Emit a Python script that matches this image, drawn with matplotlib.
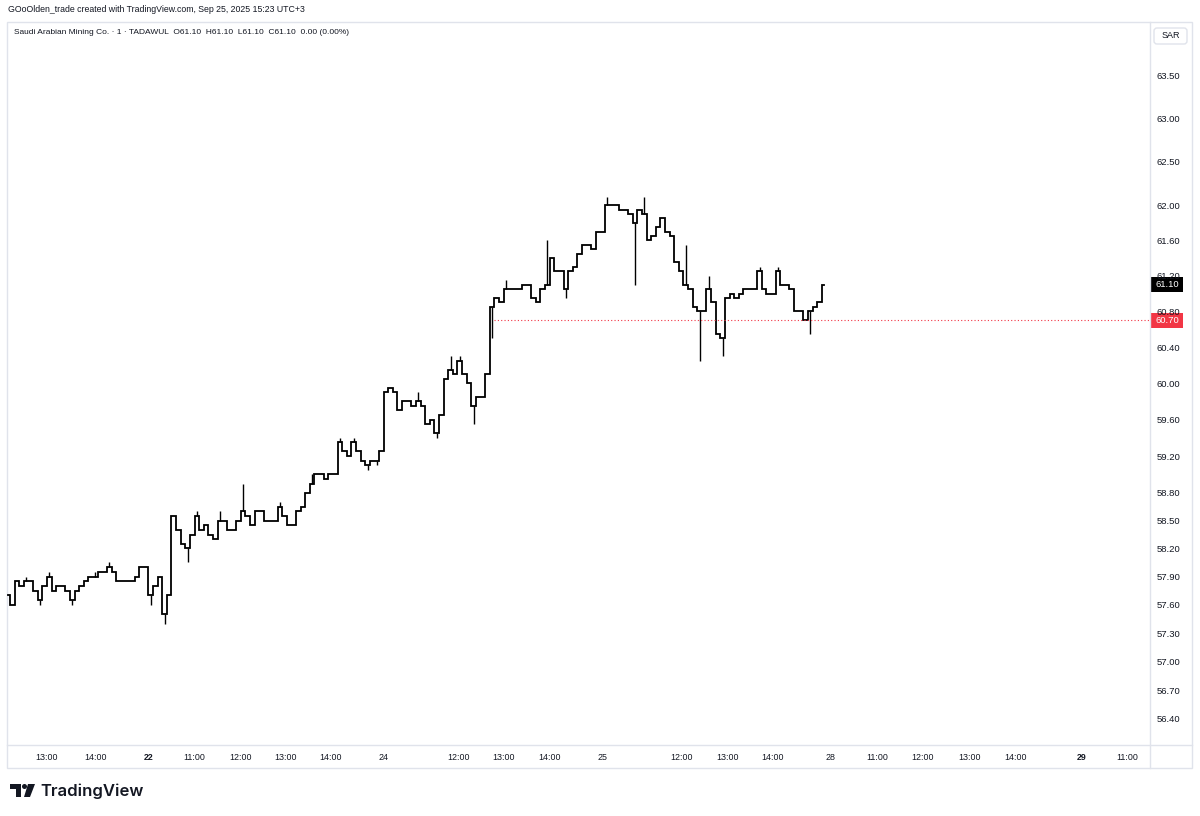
import numpy as np
import matplotlib.pyplot as plt
from matplotlib import font_manager as fm
from matplotlib.patches import FancyBboxPatch, Polygon, Rectangle, Circle

# 1-minute closes, one value every 6 bars
close = [
    57.70, 57.60, 57.85, 57.80, 57.85, 57.85, 57.75, 57.65, 57.80, 57.90,
    57.75, 57.80, 57.80, 57.75, 57.65, 57.75, 57.80, 57.85, 57.90, 57.90,
    57.95, 57.95, 58.00, 57.95, 57.85, 57.85, 57.85, 57.85, 57.90, 58.00,
    58.00, 57.70, 57.80, 57.90, 57.50, 57.70, 58.55, 58.40, 58.25, 58.20,
    58.35, 58.55, 58.40, 58.45, 58.35, 58.30, 58.50, 58.50, 58.40, 58.40,
    58.50, 58.60, 58.55, 58.45, 58.60, 58.60, 58.50, 58.50, 58.50, 58.65,
    58.55, 58.45, 58.45, 58.60, 58.65, 58.80, 58.90, 59.00, 59.00, 58.95,
    59.00, 59.00, 59.35, 59.25, 59.20, 59.35, 59.25, 59.15, 59.10, 59.15,
    59.15, 59.25, 59.90, 59.95, 59.90, 59.70, 59.80, 59.80, 59.75, 59.80,
    59.75, 59.55, 59.60, 59.45, 59.65, 60.05, 60.15, 60.10, 60.25, 60.10,
    60.00, 59.75, 59.85, 59.85, 60.10, 60.85, 60.95, 60.90, 61.05, 61.05,
    61.05, 61.05, 61.10, 61.10, 60.95, 60.90, 61.05, 61.10, 61.40, 61.25,
    61.25, 61.05, 61.25, 61.30, 61.45, 61.55, 61.55, 61.50, 61.70, 61.70,
    62.00, 62.00, 62.00, 61.95, 61.95, 61.90, 61.80, 61.95, 61.90, 61.60,
    61.65, 61.75, 61.85, 61.70, 61.65, 61.35, 61.25, 61.10, 61.05, 60.85,
    60.80, 60.80, 61.05, 60.90, 60.55, 60.50, 60.95, 61.00, 60.95, 61.00,
    61.05, 61.05, 61.05, 61.25, 61.05, 61.00, 61.00, 61.25, 61.10, 61.10,
    61.05, 60.80, 60.80, 60.70, 60.80, 60.85, 60.90, 61.10,
]
bar_step = 6

# wick extremes: (sample index, price)
wick_idx = [1, 4, 7, 9, 14, 19, 22, 31, 34, 39, 41, 46, 51, 59, 66, 72, 75, 78, 80, 89, 93, 96,
            98, 101, 105, 108, 117, 121, 130, 136, 138, 147, 150, 152, 155, 163, 167, 174]
wick_px = [57.60, 57.90, 57.60, 57.95, 57.60, 57.95, 58.05, 57.60, 57.40, 58.05, 58.60, 58.60,
           58.90, 58.70, 59.00, 59.40, 59.40, 59.05, 59.10, 59.90, 59.40, 60.30, 60.30, 59.55,
           60.50, 61.15, 61.60, 60.95, 62.10, 61.10, 62.10, 61.55, 60.25, 61.20, 60.30, 61.30,
           61.30, 60.55]

price_ticks = [56.40, 56.70, 57.00, 57.30, 57.60, 57.90, 58.20, 58.50, 58.80, 59.20,
               59.60, 60.00, 60.40, 60.80, 61.20, 61.60, 62.00, 62.50, 63.00, 63.50]

time_labels = ["13:00", "14:00", "22", "11:00", "12:00", "13:00", "14:00", "24",
               "12:00", "13:00", "14:00", "25", "12:00", "13:00", "14:00", "28",
               "11:00", "12:00", "13:00", "14:00", "29", "11:00"]
time_bars = [52, 115, 184, 243, 304, 363, 421, 490, 587, 646, 706, 775,
             878, 937, 996, 1071, 1132, 1191, 1252, 1312, 1398, 1458]
bold_labels = ["22", "29"]

last_price = 61.10
line_price = 60.70
line_start_bar = 633

title = "Saudi Arabian Mining Co. \u00b7 1 \u00b7 TADAWUL  O61.10  H61.10  L61.10  C61.10  0.00 (0.00%)"
header = "GOoOlden_trade created with TradingView.com, Sep 25, 2025 15:23 UTC+3"

W, H = 1200, 816
PANE_R = 1150
avail = {f.name for f in fm.fontManager.ttflist}
FONT = [n for n in ['Liberation Sans Narrow', 'DejaVu Sans Condensed'] if n in avail][:1] + ['Liberation Sans', 'DejaVu Sans']
TXT = '#131722'
BORDER = '#e0e3eb'

fig = plt.figure(figsize=(W / 100, H / 100), dpi=100)
fig.patch.set_facecolor('white')

# pixel overlay for frame, header and logo
bg = fig.add_axes([0, 0, 1, 1])
bg.set_xlim(0, W)
bg.set_ylim(H, 0)
bg.axis('off')

bg.add_patch(Rectangle((7, 22), 1185, 746, fill=False, ec=BORDER, lw=1.0))
bg.plot([PANE_R, PANE_R], [22, 768], color=BORDER, lw=1.0)
bg.plot([7, 1192], [745, 745], color=BORDER, lw=1.0)
bg.add_patch(FancyBboxPatch((1154, 28), 33, 16, boxstyle="round,pad=0,rounding_size=3",
                            fc='white', ec=BORDER, lw=1.0))
bg.text(1170.5, 36, "SAR", ha='center', va='center', fontsize=6.5, color=TXT, family=FONT)
bg.text(8, 10, header, ha='left', va='center', fontsize=6.3, color=TXT, family=FONT)

# TradingView logo
bg.add_patch(Polygon([(10, 784), (21, 784), (21, 797), (16, 797), (16, 789), (10, 789)],
                     closed=True, fc=TXT, ec='none'))
bg.add_patch(Circle((24.5, 786.5), 2.5, fc=TXT, ec='none'))
bg.add_patch(Polygon([(28, 784), (35, 784), (30, 797), (24, 797)], closed=True, fc=TXT, ec='none'))
bg.text(40, 791, "TradingView", ha='left', va='center', fontsize=12, color=TXT,
        family=['Inter', 'DejaVu Sans'], weight='semibold')

# main price pane
ax = fig.add_axes([7 / W, (H - 745) / H, (PANE_R - 7) / W, 723 / H])
ax.patch.set_alpha(0)
ax.set_yscale('log')
ax.set_xlim(0, 1487)
ax.set_ylim(56.13, 64.13)
for s in ax.spines.values():
    s.set_visible(False)

bars = np.arange(len(close)) * bar_step + 1
close = np.array(close)
ax.plot(bars, close, drawstyle='steps-mid', color='black', lw=1.3, solid_joinstyle='miter')
wick_idx = np.array(wick_idx)
ax.vlines(bars[wick_idx], close[wick_idx], wick_px, color='black', lw=1.0)

ax.hlines(line_price, line_start_bar, 1487, color='#f23645', lw=0.8, linestyles=(0, (1, 2)))

ax.yaxis.tick_right()
ax.yaxis.set_minor_locator(plt.NullLocator())
ax.yaxis.set_minor_formatter(plt.NullFormatter())
ax.set_yticks(price_ticks)
ax.set_yticklabels([f"{p:.2f}" for p in price_ticks])
ax.tick_params(axis='y', length=0, pad=5, labelsize=6.8, labelcolor=TXT)

ax.set_xticks(time_bars)
ax.set_xticklabels(time_labels)
ax.tick_params(axis='x', length=0, pad=6, labelsize=6.4, labelcolor=TXT)
for lab in ax.get_xticklabels() + ax.get_yticklabels():
    lab.set_family(FONT)
    if lab.get_text() in bold_labels:
        lab.set_weight('bold')

# price marker boxes on the scale (positions via the axis scale)
for val, col in [(last_price, 'black'), (line_price, '#f23645')]:
    ypix = H - ax.transData.transform((0, val))[1]
    bg.add_patch(Rectangle((1151, ypix - 7.5), 32, 15, fc=col, ec='none'))
    bg.text(1167, ypix, f"{val:.2f}", ha='center', va='center', fontsize=6.8, color='white', family=FONT)

ax.text(7 / (PANE_R - 7), 1 - 11 / 723, title, transform=ax.transAxes, ha='left', va='center',
        fontsize=6.0, color=TXT, family=FONT)

fig.savefig('out.png', dpi=100, facecolor='white')
